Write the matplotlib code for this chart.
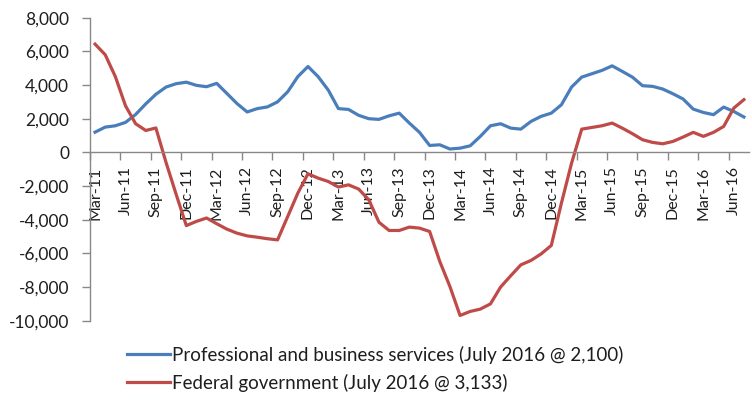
import matplotlib
matplotlib.use("Agg")
import matplotlib.pyplot as plt
from matplotlib.ticker import FixedLocator, FuncFormatter

plt.rcParams['font.family'] = ['Lato', 'DejaVu Sans']

# Monthly change, Mar-2011 through Jul-2016
months = ["Mar-11", "Apr-11", "May-11", "Jun-11", "Jul-11", "Aug-11", "Sep-11", "Oct-11", "Nov-11", "Dec-11",
          "Jan-12", "Feb-12", "Mar-12", "Apr-12", "May-12", "Jun-12", "Jul-12", "Aug-12", "Sep-12", "Oct-12",
          "Nov-12", "Dec-12", "Jan-13", "Feb-13", "Mar-13", "Apr-13", "May-13", "Jun-13", "Jul-13", "Aug-13",
          "Sep-13", "Oct-13", "Nov-13", "Dec-13", "Jan-14", "Feb-14", "Mar-14", "Apr-14", "May-14", "Jun-14",
          "Jul-14", "Aug-14", "Sep-14", "Oct-14", "Nov-14", "Dec-14", "Jan-15", "Feb-15", "Mar-15", "Apr-15",
          "May-15", "Jun-15", "Jul-15", "Aug-15", "Sep-15", "Oct-15", "Nov-15", "Dec-15", "Jan-16", "Feb-16",
          "Mar-16", "Apr-16", "May-16", "Jun-16", "Jul-16"]

professional = [1200, 1500, 1580, 1780, 2250, 2880, 3450, 3880, 4080, 4170,
                3980, 3900, 4100, 3500, 2900, 2400, 2600, 2700, 3000, 3600,
                4500, 5100, 4500, 3700, 2600, 2550, 2200, 2000, 1960, 2170,
                2330, 1740, 1190, 410, 450, 200, 250, 390, 950, 1580,
                1700, 1440, 1380, 1840, 2140, 2330, 2830, 3880, 4470, 4670,
                4870, 5140, 4810, 4470, 3960, 3920, 3760, 3480, 3170, 2570,
                2370, 2240, 2690, 2430, 2100]

federal = [6430, 5800, 4500, 2770, 1700, 1300, 1450, -600, -2500, -4350,
           -4100, -3900, -4240, -4560, -4800, -4960, -5040, -5130, -5200, -3810,
           -2420, -1270, -1530, -1730, -2060, -1930, -2180, -2820, -4150, -4640,
           -4640, -4440, -4500, -4700, -6480, -7970, -9690, -9450, -9310, -9000,
           -8000, -7330, -6680, -6420, -6030, -5530, -3010, -640, 1380, 1480,
           1580, 1740, 1440, 1110, 750, 590, 510, 650, 910, 1190,
           950, 1190, 1540, 2630, 3133]

series_labels = ["Professional and business services (July 2016 @ 2,100)",
                 "Federal government (July 2016 @ 3,133)"]
y_ticks = [8000, 6000, 4000, 2000, 0, -2000, -4000, -6000, -8000, -10000]

BLUE = "#4A7EBB"
RED = "#BE4B48"
AXIS = "#888888"
TEXT = "#1e1e1e"

fig = plt.figure(figsize=(7.52, 4.0), dpi=100)
ax = fig.add_axes([90 / 752, 1 - 320.7 / 400, 659 / 752, (320.7 - 17.7) / 400])

x = list(range(len(months)))
l1, = ax.plot(x, professional, color=BLUE, lw=2.3, solid_joinstyle='round')
l2, = ax.plot(x, federal, color=RED, lw=2.3, solid_joinstyle='round')

ax.set_xlim(-0.5, len(months) - 0.5)
ax.set_ylim(-10000, 8000)

for s in ("top", "right"):
    ax.spines[s].set_visible(False)
ax.spines["left"].set_color(AXIS)
ax.spines["bottom"].set_color(AXIS)
ax.spines["left"].set_linewidth(1.0)
ax.spines["bottom"].set_linewidth(1.0)
ax.spines["bottom"].set_position(("data", 0))

ax.yaxis.set_major_locator(FixedLocator(y_ticks))
ax.yaxis.set_major_formatter(FuncFormatter(lambda v, p: f"{int(v):,}"))
ax.tick_params(axis="y", direction="out", length=6, width=1, color=AXIS,
               labelsize=12.5, labelcolor=TEXT, pad=9)

# category boundaries carry tick marks, labels sit at category centres
label_idx = list(range(0, len(months), 3))
ax.xaxis.set_major_locator(FixedLocator([i - 0.5 for i in label_idx]))
ax.xaxis.set_major_formatter(FuncFormatter(lambda v, p: ""))
ax.xaxis.set_minor_locator(FixedLocator(label_idx))
ax.set_xticklabels([months[i] for i in label_idx], minor=True, rotation=90,
                   va="top", ha="center")
ax.tick_params(axis="x", which="major", direction="out", length=6, width=1, color=AXIS)
ax.tick_params(axis="x", which="minor", length=0, labelsize=11.5, labelcolor=TEXT, pad=10)

leg = ax.legend([l1, l2], series_labels, loc="upper left",
                bbox_to_anchor=(127 / 752, 1 - 345.5 / 400), bbox_transform=fig.transFigure,
                frameon=False, borderpad=0, borderaxespad=0, handlelength=2.3,
                handletextpad=0.12, labelspacing=0.55, fontsize=13.5)
for t in leg.get_texts():
    t.set_color(TEXT)

fig.savefig("out.png", dpi=100)
